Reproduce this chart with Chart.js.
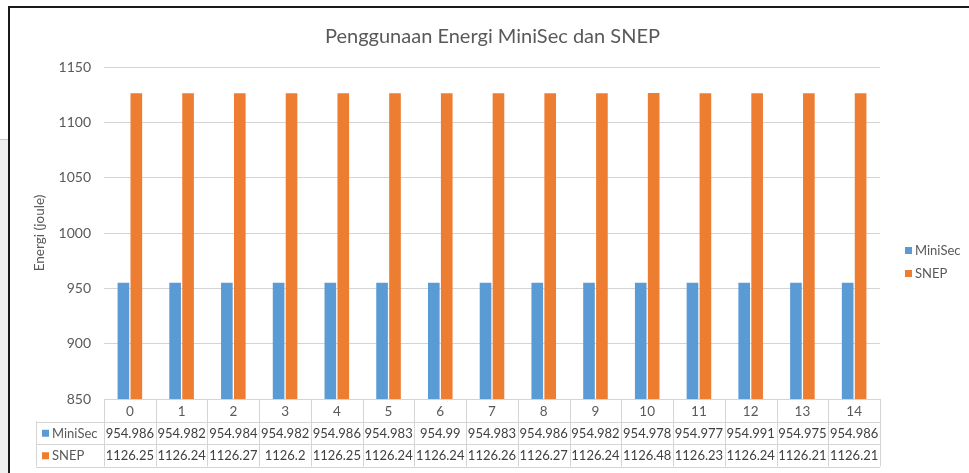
<!DOCTYPE html>
<html>
<head>
<meta charset="utf-8">
<script src="https://cdn.jsdelivr.net/npm/chart.js@4.4.1/dist/chart.umd.min.js"></script>
<style>
    html, body { margin: 0; padding: 0; background: #fff; }
    body { width: 969px; height: 473px; position: relative; overflow: hidden; }
    #side { position: absolute; left: 0; top: 139px; width: 8px; height: 334px; background: #f0f0f0; border-top: 1px solid #c8c8c8; }
    #frame { position: absolute; left: 8px; top: 6px; width: 959px; height: 465px; border-left: 2px solid #1a1a1a; border-top: 2px solid #1a1a1a; }
    #frame canvas { display: block; }
</style>
</head>
<body>
<div id="side"></div>
<div id="frame"><canvas id="grafico-energi" width="959" height="465"></canvas></div>
<script>
const CATEGORIAS = ['0', '1', '2', '3', '4', '5', '6', '7', '8', '9', '10', '11', '12', '13', '14'];
const MINISEC = [954.986, 954.982, 954.984, 954.982, 954.986, 954.983, 954.99, 954.983, 954.986, 954.982, 954.978, 954.977, 954.991, 954.975, 954.986];
const SNEP = [1126.25, 1126.24, 1126.27, 1126.2, 1126.25, 1126.24, 1126.24, 1126.26, 1126.27, 1126.24, 1126.48, 1126.23, 1126.24, 1126.21, 1126.21];
const SERIES = ['MiniSec', 'SNEP'];
const WARNA = ['#5b9bd5', '#ed7d31'];
const JUDUL = 'Penggunaan Energi MiniSec dan SNEP';
const JUDUL_Y = 'Energi (joule)';

const FONT = 'Lato, "Open Sans", sans-serif';
const ABU = '#595959';
const GARIS = '#d4d4d4';

// tabel data di bawah sumbu x + legend di kanan (gaya Excel)
const tabelData = {
    id: 'tabelData',
    afterDraw(chart) {
        const { ctx, chartArea, scales } = chart;
        const x = scales.x;
        const n = CATEGORIAS.length;
        const lebar = (chartArea.right - chartArea.left) / n;
        const tinggiBaris = 22.5;
        const top = chartArea.bottom;
        const kiriTabel = 26;
        const kanan = chartArea.right;
        const barisY = [top, top + tinggiBaris, top + tinggiBaris * 2, top + tinggiBaris * 3];

        ctx.save();
        ctx.strokeStyle = GARIS;
        ctx.lineWidth = 1;
        ctx.beginPath();
        // garis horizontal
        ctx.moveTo(chartArea.left, Math.round(barisY[0]) + 0.5);
        ctx.lineTo(kanan, Math.round(barisY[0]) + 0.5);
        for (let r = 1; r < barisY.length; r++) {
            ctx.moveTo(kiriTabel, Math.round(barisY[r]) + 0.5);
            ctx.lineTo(kanan, Math.round(barisY[r]) + 0.5);
        }
        // garis vertikal
        for (let i = 0; i <= n; i++) {
            const px = Math.round(chartArea.left + i * lebar) + 0.5;
            ctx.moveTo(px, barisY[0]);
            ctx.lineTo(px, barisY[3]);
        }
        ctx.moveTo(kiriTabel + 0.5, barisY[1]);
        ctx.lineTo(kiriTabel + 0.5, barisY[3]);
        ctx.stroke();

        ctx.textAlign = 'center';
        ctx.textBaseline = 'middle';
        ctx.font = `13.5px ${FONT}`;
        ctx.fillStyle = ABU;
        CATEGORIAS.forEach((c, i) => {
            ctx.fillText(c, x.getPixelForValue(i), barisY[0] + tinggiBaris / 2 + 1);
        });

        ctx.font = `13px ${FONT}`;
        ctx.fillStyle = '#404040';
        [MINISEC, SNEP].forEach((arr, r) => {
            arr.forEach((v, i) => {
                ctx.fillText(String(v), x.getPixelForValue(i), barisY[r + 1] + tinggiBaris / 2 + 1);
            });
        });

        // label seri di kolom kiri tabel
        ctx.textAlign = 'left';
        SERIES.forEach((s, r) => {
            const cy = barisY[r + 1] + tinggiBaris / 2;
            ctx.fillStyle = WARNA[r];
            ctx.fillRect(kiriTabel + 6, cy - 3, 7, 7);
            ctx.fillStyle = ABU;
            ctx.fillText(s, kiriTabel + 16, cy + 1);
        });

        // legend di kanan
        SERIES.forEach((s, r) => {
            const cy = 242 + r * 23;
            const lx = chartArea.right + 25;
            ctx.fillStyle = WARNA[r];
            ctx.fillRect(lx, cy - 3, 7, 7);
            ctx.fillStyle = ABU;
            ctx.fillText(s, lx + 10, cy + 1);
        });
        ctx.restore();
    }
};

new Chart(document.getElementById('grafico-energi'), {
    type: 'bar',
    data: {
        labels: CATEGORIAS,
        datasets: SERIES.map((s, i) => ({
            label: s,
            data: i === 0 ? MINISEC : SNEP,
            backgroundColor: WARNA[i],
            borderWidth: 0,
            categoryPercentage: 0.5,
            barPercentage: 0.9
        }))
    },
    options: {
        responsive: false,
        animation: false,
        layout: { padding: { left: 6, right: 0, top: 0, bottom: 0 } },
        plugins: {
            legend: { display: false },
            tooltip: { enabled: false },
            title: {
                display: true,
                text: JUDUL,
                color: ABU,
                font: { family: FONT, size: 20, weight: 'normal' },
                padding: { top: 17, bottom: 18 }
            }
        },
        scales: {
            x: {
                ticks: { display: false },
                grid: { display: false },
                border: { display: false },
                afterFit: (s) => { s.height = 74; }
            },
            y: {
                min: 850,
                max: 1150,
                ticks: {
                    stepSize: 50,
                    color: ABU,
                    padding: 13,
                    font: { family: FONT, size: 14 },
                    callback: (v) => String(v)
                },
                grid: { color: GARIS, drawTicks: false },
                border: { display: false },
                title: {
                    display: true,
                    text: JUDUL_Y,
                    color: ABU,
                    font: { family: FONT, size: 13.5 },
                    padding: { top: 16, bottom: 0 }
                },
                afterFit: (s) => { s.width = 88; }
            },
            // ruang kosong di kanan untuk legend
            ruang: {
                position: 'right',
                display: true,
                ticks: { display: false },
                grid: { display: false },
                border: { display: false },
                afterFit: (s) => { s.width = 89; }
            }
        }
    },
    plugins: [tabelData]
});
</script>
</body>
</html>
